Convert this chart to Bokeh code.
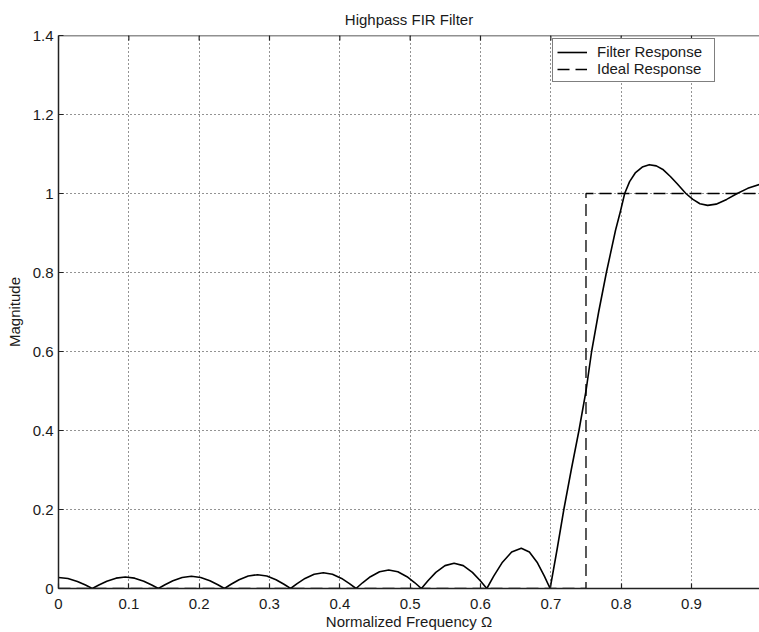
from bokeh.plotting import figure
from bokeh.models import FixedTicker, Range1d, Legend, LegendItem, Span
from bokeh.embed import file_html
from bokeh.resources import INLINE

# Filter response
freq = [0.000, 0.0134, 0.0269, 0.0384, 0.048,
        0.0574, 0.0687, 0.0818, 0.095, 0.1082, 0.1213, 0.1326, 0.142,
        0.1514, 0.1627, 0.1758, 0.189, 0.2022, 0.2153, 0.2266, 0.236,
        0.2454, 0.2567, 0.2698, 0.283, 0.2962, 0.3093, 0.3206, 0.330,
        0.3393, 0.3505, 0.3635, 0.3765, 0.3895, 0.4025, 0.4137, 0.423,
        0.4323, 0.4435, 0.4565, 0.4695, 0.4825, 0.4955, 0.5067, 0.516,
        0.5253, 0.5365, 0.5495, 0.5625, 0.5755, 0.5885, 0.5997, 0.609,
        0.6188, 0.6306, 0.6443, 0.658, 0.6695, 0.681, 0.6908, 0.699,
        0.709, 0.7185, 0.729, 0.740, 0.750, 0.758, 0.768, 0.779, 0.792, 0.799, 0.805,
        0.812, 0.820, 0.830, 0.840, 0.850, 0.860, 0.870, 0.880, 0.892,
        0.902, 0.912, 0.923, 0.935, 0.950, 0.965, 0.980, 0.997]
mag = [0.028, 0.0253, 0.0178, 0.0087, 0.0,
       0.0090, 0.0185, 0.0262, 0.029, 0.0262, 0.0185, 0.0090, 0.0,
       0.0096, 0.0197, 0.0280, 0.031, 0.0280, 0.0197, 0.0096, 0.0,
       0.0108, 0.0223, 0.0316, 0.035, 0.0316, 0.0223, 0.0108, 0.0,
       0.0124, 0.0255, 0.0362, 0.040, 0.0362, 0.0255, 0.0124, 0.0,
       0.0145, 0.0299, 0.0425, 0.047, 0.0425, 0.0299, 0.0145, 0.0,
       0.0198, 0.0408, 0.0579, 0.064, 0.0579, 0.0408, 0.0198, 0.0,
       0.0315, 0.0650, 0.0922, 0.102, 0.0922, 0.0650, 0.0315, 0.0,
       0.10, 0.20, 0.30, 0.40, 0.50, 0.60, 0.70, 0.80, 0.907, 0.955, 1.00,
       1.030, 1.052, 1.067, 1.073, 1.070, 1.060, 1.043, 1.024, 1.00,
       0.985, 0.974, 0.970, 0.973, 0.985, 1.00, 1.013, 1.023]

# Ideal response
ideal_freq = [0.0, 0.75, 0.75, 1.0]
ideal_mag = [0.0, 0.0, 1.0, 1.0]

x_ticks = [0.0, 0.1, 0.2, 0.3, 0.4, 0.5, 0.6, 0.7, 0.8, 0.9]
x_tick_labels = ["0", "0.1", "0.2", "0.3", "0.4", "0.5", "0.6", "0.7", "0.8", "0.9"]
y_ticks = [0.0, 0.2, 0.4, 0.6, 0.8, 1.0, 1.2, 1.4]
y_tick_labels = ["0", "0.2", "0.4", "0.6", "0.8", "1", "1.2", "1.4"]

FONT = "Liberation Sans"
TXT = "#1a1a1a"
FS = "15px"
Y_MAX = 1.4
TOP_TICK = 0.0126  # inward tick length at the top edge (data units)

p = figure(width=759, height=632,
           x_range=Range1d(0, 0.9967), y_range=Range1d(0, Y_MAX),
           output_backend="svg", toolbar_location=None,
           title="Highpass FIR Filter",
           x_axis_label="Normalized Frequency \u03a9",
           y_axis_label="Magnitude",
           min_border_left=58, min_border_right=0,
           min_border_top=34, min_border_bottom=44)

p.outline_line_color = None
p.background_fill_color = "white"
p.border_fill_color = "white"

p.title.align = "center"
p.title.text_font = FONT
p.title.text_font_size = FS
p.title.text_font_style = "normal"
p.title.text_color = TXT
p.title.text_line_height = 0.7
p.title.standoff = 16

for ax, ticks, labels in ((p.xaxis[0], x_ticks, x_tick_labels), (p.yaxis[0], y_ticks, y_tick_labels)):
    ax.ticker = FixedTicker(ticks=ticks)
    ax.major_label_overrides = {t: l for t, l in zip(ticks, labels)}
    ax.major_tick_in = 5
    ax.major_tick_out = 0
    ax.minor_tick_line_color = None
    ax.major_label_text_font = FONT
    ax.major_label_text_font_size = FS
    ax.major_label_text_color = TXT
    ax.axis_label_text_font = FONT
    ax.axis_label_text_font_size = FS
    ax.axis_label_text_font_style = "normal"
    ax.axis_label_text_color = TXT
    ax.axis_line_color = "#222222"
    ax.axis_line_width = 1.5
    ax.major_tick_line_color = "#222222"
    ax.major_tick_line_width = 1.2

p.xaxis[0].major_label_standoff = 10
p.xaxis[0].axis_label_standoff = 1
p.yaxis[0].major_label_standoff = 5
p.yaxis[0].axis_label_standoff = 7

for g, ticks in ((p.xgrid[0], x_ticks), (p.ygrid[0], y_ticks)):
    g.ticker = FixedTicker(ticks=ticks)
    g.grid_line_color = "black"
    g.grid_line_dash = "1 3"
    g.grid_line_width = 1
    g.grid_line_alpha = 0.85

# top border with inward ticks
p.add_layout(Span(location=Y_MAX, dimension="width", line_color="#222222", line_width=1.5))
p.segment(x0=x_ticks, y0=[Y_MAX] * len(x_ticks), x1=x_ticks,
          y1=[Y_MAX - TOP_TICK] * len(x_ticks), line_color="#222222", line_width=1.2)

r1 = p.line(freq, mag, line_color="black", line_width=1.6, line_join="round")
r2 = p.line(ideal_freq, ideal_mag, line_color="black", line_width=1.3, line_dash="12 6")

legend = Legend(items=[LegendItem(label="Filter Response", renderers=[r1]),
                       LegendItem(label="Ideal Response", renderers=[r2])],
                location=(494, 506), margin=0, padding=4, spacing=0,
                glyph_width=30, glyph_height=16, label_height=16, label_width=113,
                label_standoff=10,
                label_text_font=FONT, label_text_font_size=FS, label_text_color=TXT,
                border_line_color="black", border_line_width=1.2,
                background_fill_color="white", background_fill_alpha=1.0)
p.add_layout(legend)

open("out.html", "w").write(file_html(p, INLINE))
